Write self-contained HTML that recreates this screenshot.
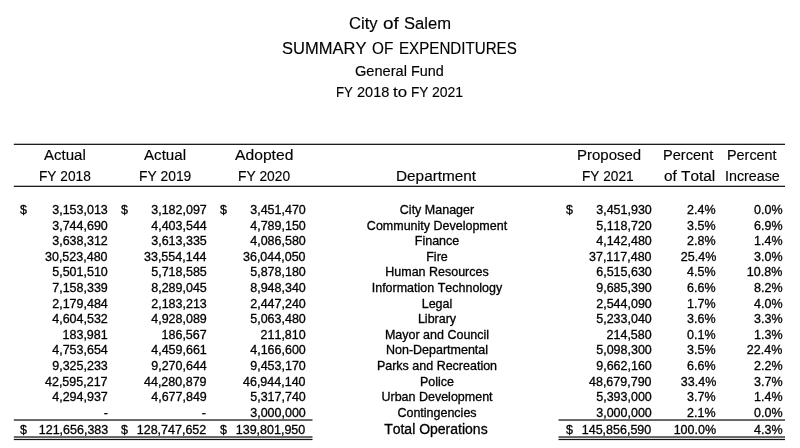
<!DOCTYPE html>
<html><head><meta charset="utf-8"><title>City of Salem - Summary of Expenditures</title>
<style>
html,body{margin:0;padding:0;background:#fff}
body{width:800px;height:448px;position:relative;overflow:hidden;font-family:"Liberation Sans",Arial,sans-serif;color:#000}
.t{position:absolute;white-space:nowrap;margin:0;padding:0;-webkit-text-stroke:0.3px #000;font-kerning:none;font-feature-settings:"kern" 0}
.n{font-size:12.1px;line-height:12.1px;transform:scaleX(1.033)}
.tot{font-size:14px;line-height:14px;transform:scaleX(1.0)}
.f{transform-origin:0 0;-webkit-text-stroke-width:0.15px}
.r{position:absolute;background:#111}
svg{position:absolute;left:0;top:0}
</style></head><body>
<svg width="800" height="448" viewBox="0 0 800 448" fill="#111" shape-rendering="geometricPrecision"><rect x="13.8" y="143.7" width="771.2" height="1.25"/><rect x="13.8" y="185.7" width="771.2" height="1.25"/><rect x="13.8" y="419.4" width="298.7" height="1.25"/><rect x="13.8" y="436.4" width="298.7" height="1.25"/><rect x="13.8" y="438.85" width="298.7" height="1.25"/><rect x="558.5" y="419.4" width="226.5" height="1.25"/><rect x="558.5" y="436.4" width="226.5" height="1.25"/><rect x="558.5" y="438.85" width="226.5" height="1.25"/></svg>
<div class="t n" style="top:204.06px;right:692.00px;text-align:right;transform-origin:100% 0;">3,153,013</div>
<div class="t n" style="top:204.06px;right:593.60px;text-align:right;transform-origin:100% 0;">3,182,097</div>
<div class="t n" style="top:204.06px;right:494.70px;text-align:right;transform-origin:100% 0;">3,451,470</div>
<div class="t n" style="top:204.06px;right:148.40px;text-align:right;transform-origin:100% 0;">3,451,930</div>
<div class="t n" style="top:204.06px;right:84.00px;text-align:right;transform-origin:100% 0;">2.4%</div>
<div class="t n" style="top:204.06px;right:17.85px;text-align:right;transform-origin:100% 0;">0.0%</div>
<div class="t n" style="top:204.06px;left:286.50px;width:300px;text-align:center;transform-origin:50% 0;">City Manager</div>
<div class="t n" style="top:204.06px;left:20.20px;transform-origin:0 0;">$</div>
<div class="t n" style="top:204.06px;left:121.40px;transform-origin:0 0;">$</div>
<div class="t n" style="top:204.06px;left:220.40px;transform-origin:0 0;">$</div>
<div class="t n" style="top:204.06px;left:565.50px;transform-origin:0 0;">$</div>
<div class="t n" style="top:219.65px;right:692.00px;text-align:right;transform-origin:100% 0;">3,744,690</div>
<div class="t n" style="top:219.65px;right:593.60px;text-align:right;transform-origin:100% 0;">4,403,544</div>
<div class="t n" style="top:219.65px;right:494.70px;text-align:right;transform-origin:100% 0;">4,789,150</div>
<div class="t n" style="top:219.65px;right:148.40px;text-align:right;transform-origin:100% 0;">5,118,720</div>
<div class="t n" style="top:219.65px;right:84.00px;text-align:right;transform-origin:100% 0;">3.5%</div>
<div class="t n" style="top:219.65px;right:17.85px;text-align:right;transform-origin:100% 0;">6.9%</div>
<div class="t n" style="top:219.65px;left:286.50px;width:300px;text-align:center;transform-origin:50% 0;">Community Development</div>
<div class="t n" style="top:235.24px;right:692.00px;text-align:right;transform-origin:100% 0;">3,638,312</div>
<div class="t n" style="top:235.24px;right:593.60px;text-align:right;transform-origin:100% 0;">3,613,335</div>
<div class="t n" style="top:235.24px;right:494.70px;text-align:right;transform-origin:100% 0;">4,086,580</div>
<div class="t n" style="top:235.24px;right:148.40px;text-align:right;transform-origin:100% 0;">4,142,480</div>
<div class="t n" style="top:235.24px;right:84.00px;text-align:right;transform-origin:100% 0;">2.8%</div>
<div class="t n" style="top:235.24px;right:17.85px;text-align:right;transform-origin:100% 0;">1.4%</div>
<div class="t n" style="top:235.24px;left:286.50px;width:300px;text-align:center;transform-origin:50% 0;">Finance</div>
<div class="t n" style="top:250.83px;right:692.00px;text-align:right;transform-origin:100% 0;">30,523,480</div>
<div class="t n" style="top:250.83px;right:593.60px;text-align:right;transform-origin:100% 0;">33,554,144</div>
<div class="t n" style="top:250.83px;right:494.70px;text-align:right;transform-origin:100% 0;">36,044,050</div>
<div class="t n" style="top:250.83px;right:148.40px;text-align:right;transform-origin:100% 0;">37,117,480</div>
<div class="t n" style="top:250.83px;right:84.00px;text-align:right;transform-origin:100% 0;">25.4%</div>
<div class="t n" style="top:250.83px;right:17.85px;text-align:right;transform-origin:100% 0;">3.0%</div>
<div class="t n" style="top:250.83px;left:286.50px;width:300px;text-align:center;transform-origin:50% 0;">Fire</div>
<div class="t n" style="top:266.42px;right:692.00px;text-align:right;transform-origin:100% 0;">5,501,510</div>
<div class="t n" style="top:266.42px;right:593.60px;text-align:right;transform-origin:100% 0;">5,718,585</div>
<div class="t n" style="top:266.42px;right:494.70px;text-align:right;transform-origin:100% 0;">5,878,180</div>
<div class="t n" style="top:266.42px;right:148.40px;text-align:right;transform-origin:100% 0;">6,515,630</div>
<div class="t n" style="top:266.42px;right:84.00px;text-align:right;transform-origin:100% 0;">4.5%</div>
<div class="t n" style="top:266.42px;right:17.85px;text-align:right;transform-origin:100% 0;">10.8%</div>
<div class="t n" style="top:266.42px;left:286.50px;width:300px;text-align:center;transform-origin:50% 0;">Human Resources</div>
<div class="t n" style="top:282.01px;right:692.00px;text-align:right;transform-origin:100% 0;">7,158,339</div>
<div class="t n" style="top:282.01px;right:593.60px;text-align:right;transform-origin:100% 0;">8,289,045</div>
<div class="t n" style="top:282.01px;right:494.70px;text-align:right;transform-origin:100% 0;">8,948,340</div>
<div class="t n" style="top:282.01px;right:148.40px;text-align:right;transform-origin:100% 0;">9,685,390</div>
<div class="t n" style="top:282.01px;right:84.00px;text-align:right;transform-origin:100% 0;">6.6%</div>
<div class="t n" style="top:282.01px;right:17.85px;text-align:right;transform-origin:100% 0;">8.2%</div>
<div class="t n" style="top:282.01px;left:286.50px;width:300px;text-align:center;transform-origin:50% 0;">Information Technology</div>
<div class="t n" style="top:297.60px;right:692.00px;text-align:right;transform-origin:100% 0;">2,179,484</div>
<div class="t n" style="top:297.60px;right:593.60px;text-align:right;transform-origin:100% 0;">2,183,213</div>
<div class="t n" style="top:297.60px;right:494.70px;text-align:right;transform-origin:100% 0;">2,447,240</div>
<div class="t n" style="top:297.60px;right:148.40px;text-align:right;transform-origin:100% 0;">2,544,090</div>
<div class="t n" style="top:297.60px;right:84.00px;text-align:right;transform-origin:100% 0;">1.7%</div>
<div class="t n" style="top:297.60px;right:17.85px;text-align:right;transform-origin:100% 0;">4.0%</div>
<div class="t n" style="top:297.60px;left:286.50px;width:300px;text-align:center;transform-origin:50% 0;">Legal</div>
<div class="t n" style="top:313.19px;right:692.00px;text-align:right;transform-origin:100% 0;">4,604,532</div>
<div class="t n" style="top:313.19px;right:593.60px;text-align:right;transform-origin:100% 0;">4,928,089</div>
<div class="t n" style="top:313.19px;right:494.70px;text-align:right;transform-origin:100% 0;">5,063,480</div>
<div class="t n" style="top:313.19px;right:148.40px;text-align:right;transform-origin:100% 0;">5,233,040</div>
<div class="t n" style="top:313.19px;right:84.00px;text-align:right;transform-origin:100% 0;">3.6%</div>
<div class="t n" style="top:313.19px;right:17.85px;text-align:right;transform-origin:100% 0;">3.3%</div>
<div class="t n" style="top:313.19px;left:286.50px;width:300px;text-align:center;transform-origin:50% 0;">Library</div>
<div class="t n" style="top:328.78px;right:692.00px;text-align:right;transform-origin:100% 0;">183,981</div>
<div class="t n" style="top:328.78px;right:593.60px;text-align:right;transform-origin:100% 0;">186,567</div>
<div class="t n" style="top:328.78px;right:494.70px;text-align:right;transform-origin:100% 0;">211,810</div>
<div class="t n" style="top:328.78px;right:148.40px;text-align:right;transform-origin:100% 0;">214,580</div>
<div class="t n" style="top:328.78px;right:84.00px;text-align:right;transform-origin:100% 0;">0.1%</div>
<div class="t n" style="top:328.78px;right:17.85px;text-align:right;transform-origin:100% 0;">1.3%</div>
<div class="t n" style="top:328.78px;left:286.50px;width:300px;text-align:center;transform-origin:50% 0;">Mayor and Council</div>
<div class="t n" style="top:344.37px;right:692.00px;text-align:right;transform-origin:100% 0;">4,753,654</div>
<div class="t n" style="top:344.37px;right:593.60px;text-align:right;transform-origin:100% 0;">4,459,661</div>
<div class="t n" style="top:344.37px;right:494.70px;text-align:right;transform-origin:100% 0;">4,166,600</div>
<div class="t n" style="top:344.37px;right:148.40px;text-align:right;transform-origin:100% 0;">5,098,300</div>
<div class="t n" style="top:344.37px;right:84.00px;text-align:right;transform-origin:100% 0;">3.5%</div>
<div class="t n" style="top:344.37px;right:17.85px;text-align:right;transform-origin:100% 0;">22.4%</div>
<div class="t n" style="top:344.37px;left:286.50px;width:300px;text-align:center;transform-origin:50% 0;">Non-Departmental</div>
<div class="t n" style="top:359.96px;right:692.00px;text-align:right;transform-origin:100% 0;">9,325,233</div>
<div class="t n" style="top:359.96px;right:593.60px;text-align:right;transform-origin:100% 0;">9,270,644</div>
<div class="t n" style="top:359.96px;right:494.70px;text-align:right;transform-origin:100% 0;">9,453,170</div>
<div class="t n" style="top:359.96px;right:148.40px;text-align:right;transform-origin:100% 0;">9,662,160</div>
<div class="t n" style="top:359.96px;right:84.00px;text-align:right;transform-origin:100% 0;">6.6%</div>
<div class="t n" style="top:359.96px;right:17.85px;text-align:right;transform-origin:100% 0;">2.2%</div>
<div class="t n" style="top:359.96px;left:286.50px;width:300px;text-align:center;transform-origin:50% 0;">Parks and Recreation</div>
<div class="t n" style="top:375.55px;right:692.00px;text-align:right;transform-origin:100% 0;">42,595,217</div>
<div class="t n" style="top:375.55px;right:593.60px;text-align:right;transform-origin:100% 0;">44,280,879</div>
<div class="t n" style="top:375.55px;right:494.70px;text-align:right;transform-origin:100% 0;">46,944,140</div>
<div class="t n" style="top:375.55px;right:148.40px;text-align:right;transform-origin:100% 0;">48,679,790</div>
<div class="t n" style="top:375.55px;right:84.00px;text-align:right;transform-origin:100% 0;">33.4%</div>
<div class="t n" style="top:375.55px;right:17.85px;text-align:right;transform-origin:100% 0;">3.7%</div>
<div class="t n" style="top:375.55px;left:286.50px;width:300px;text-align:center;transform-origin:50% 0;">Police</div>
<div class="t n" style="top:391.14px;right:692.00px;text-align:right;transform-origin:100% 0;">4,294,937</div>
<div class="t n" style="top:391.14px;right:593.60px;text-align:right;transform-origin:100% 0;">4,677,849</div>
<div class="t n" style="top:391.14px;right:494.70px;text-align:right;transform-origin:100% 0;">5,317,740</div>
<div class="t n" style="top:391.14px;right:148.40px;text-align:right;transform-origin:100% 0;">5,393,000</div>
<div class="t n" style="top:391.14px;right:84.00px;text-align:right;transform-origin:100% 0;">3.7%</div>
<div class="t n" style="top:391.14px;right:17.85px;text-align:right;transform-origin:100% 0;">1.4%</div>
<div class="t n" style="top:391.14px;left:286.50px;width:300px;text-align:center;transform-origin:50% 0;">Urban Development</div>
<div class="t n" style="top:406.73px;right:692.00px;text-align:right;transform-origin:100% 0;">-</div>
<div class="t n" style="top:406.73px;right:593.60px;text-align:right;transform-origin:100% 0;">-</div>
<div class="t n" style="top:406.73px;right:494.70px;text-align:right;transform-origin:100% 0;">3,000,000</div>
<div class="t n" style="top:406.73px;right:148.40px;text-align:right;transform-origin:100% 0;">3,000,000</div>
<div class="t n" style="top:406.73px;right:84.00px;text-align:right;transform-origin:100% 0;">2.1%</div>
<div class="t n" style="top:406.73px;right:17.85px;text-align:right;transform-origin:100% 0;">0.0%</div>
<div class="t n" style="top:406.73px;left:286.50px;width:300px;text-align:center;transform-origin:50% 0;">Contingencies</div>
<div class="t n" style="top:424.36px;right:692.00px;text-align:right;transform-origin:100% 0;">121,656,383</div>
<div class="t n" style="top:424.36px;right:593.60px;text-align:right;transform-origin:100% 0;">128,747,652</div>
<div class="t n" style="top:424.36px;right:494.70px;text-align:right;transform-origin:100% 0;">139,801,950</div>
<div class="t n" style="top:424.36px;right:148.40px;text-align:right;transform-origin:100% 0;">145,856,590</div>
<div class="t n" style="top:424.36px;right:84.00px;text-align:right;transform-origin:100% 0;">100.0%</div>
<div class="t n" style="top:424.36px;right:17.85px;text-align:right;transform-origin:100% 0;">4.3%</div>
<div class="t n" style="top:424.36px;left:20.20px;transform-origin:0 0;">$</div>
<div class="t n" style="top:424.36px;left:121.40px;transform-origin:0 0;">$</div>
<div class="t n" style="top:424.36px;left:220.40px;transform-origin:0 0;">$</div>
<div class="t n" style="top:424.36px;left:565.50px;transform-origin:0 0;">$</div>
<div class="t tot" style="top:422.00px;left:285.90px;width:300px;text-align:center;transform-origin:50% 0;">Total Operations</div>
<div class="t f" style="left:348.58px;top:14.53px;font-size:17.33px;line-height:17.33px;transform:scaleX(0.9607)">City</div>
<div class="t f" style="left:382.95px;top:14.53px;font-size:17.33px;line-height:17.33px;transform:scaleX(1.0929)">of</div>
<div class="t f" style="left:404.08px;top:14.53px;font-size:17.33px;line-height:17.33px;transform:scaleX(0.9568)">Salem</div>
<div class="t f" style="left:281.88px;top:40.86px;font-size:16px;line-height:16px;transform:scaleX(1.0321)">SUMMARY</div>
<div class="t f" style="left:372.02px;top:40.86px;font-size:16px;line-height:16px;transform:scaleX(0.9553)">OF</div>
<div class="t f" style="left:398.72px;top:40.86px;font-size:16px;line-height:16px;transform:scaleX(0.9466)">EXPENDITURES</div>
<div class="t f" style="left:355.40px;top:63.98px;font-size:14.67px;line-height:14.67px;transform:scaleX(0.9970)">General</div>
<div class="t f" style="left:411.27px;top:63.98px;font-size:14.67px;line-height:14.67px;transform:scaleX(0.9825)">Fund</div>
<div class="t f" style="left:336.10px;top:84.73px;font-size:14.67px;line-height:14.67px;transform:scaleX(0.9000)">FY</div>
<div class="t f" style="left:356.90px;top:84.73px;font-size:14.67px;line-height:14.67px;transform:scaleX(0.9905)">2018</div>
<div class="t f" style="left:393.00px;top:84.73px;font-size:14.67px;line-height:14.67px;transform:scaleX(1.1489)">to</div>
<div class="t f" style="left:410.97px;top:84.73px;font-size:14.67px;line-height:14.67px;transform:scaleX(0.9314)">FY</div>
<div class="t f" style="left:431.72px;top:84.73px;font-size:14.67px;line-height:14.67px;transform:scaleX(0.9556)">2021</div>
<div class="t f" style="left:44.40px;top:148.28px;font-size:14.67px;line-height:14.67px;transform:scaleX(1.0250)">Actual</div>
<div class="t f" style="left:38.81px;top:169.18px;font-size:14.67px;line-height:14.67px;transform:scaleX(0.9352)">FY 2018</div>
<div class="t f" style="left:144.25px;top:148.28px;font-size:14.67px;line-height:14.67px;transform:scaleX(1.0312)">Actual</div>
<div class="t f" style="left:138.56px;top:169.18px;font-size:14.67px;line-height:14.67px;transform:scaleX(0.9442)">FY 2019</div>
<div class="t f" style="left:235.00px;top:148.28px;font-size:14.67px;line-height:14.67px;transform:scaleX(1.0698)">Adopted</div>
<div class="t f" style="left:237.81px;top:169.18px;font-size:14.67px;line-height:14.67px;transform:scaleX(0.9398)">FY 2020</div>
<div class="t f" style="left:395.70px;top:169.18px;font-size:14.67px;line-height:14.67px;transform:scaleX(1.0464)">Department</div>
<div class="t f" style="left:576.98px;top:148.28px;font-size:14.67px;line-height:14.67px;transform:scaleX(1.0230)">Proposed</div>
<div class="t f" style="left:582.47px;top:169.18px;font-size:14.67px;line-height:14.67px;transform:scaleX(0.9321)">FY 2021</div>
<div class="t f" style="left:663.41px;top:148.28px;font-size:14.67px;line-height:14.67px;transform:scaleX(0.9939)">Percent</div>
<div class="t f" style="left:663.88px;top:169.18px;font-size:14.67px;line-height:14.67px;transform:scaleX(1.0484)">of Total</div>
<div class="t f" style="left:727.02px;top:148.28px;font-size:14.67px;line-height:14.67px;transform:scaleX(0.9818)">Percent</div>
<div class="t f" style="left:724.68px;top:169.18px;font-size:14.67px;line-height:14.67px;transform:scaleX(0.9743)">Increase</div>
</body></html>
